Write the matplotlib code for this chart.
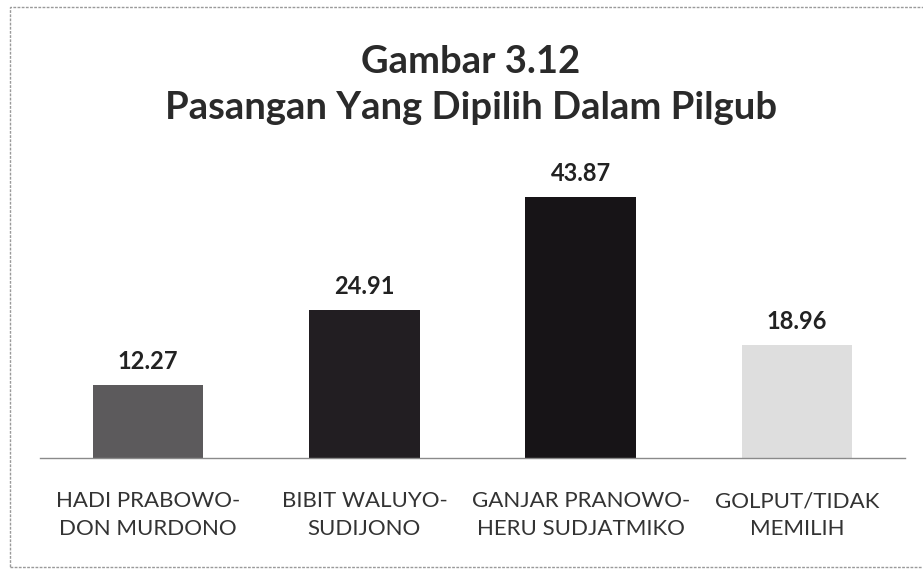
import matplotlib
matplotlib.use("Agg")
import matplotlib.pyplot as plt
from matplotlib.patches import Rectangle

categories = ["HADI PRABOWO-\nDON MURDONO", "BIBIT WALUYO-\nSUDIJONO",
              "GANJAR PRANOWO-\nHERU SUDJATMIKO", "GOLPUT/TIDAK\nMEMILIH"]
values = [12.27, 24.91, 43.87, 18.96]
bar_colors = ["#5c5a5c", "#221e22", "#171417", "#dedede"]

plt.rcParams["font.family"] = ["Lato", "DejaVu Sans"]

fig = plt.figure(figsize=(9.23, 5.71), dpi=100)
ax = fig.add_axes([40 / 923, 1 - 458 / 571, 865 / 923, 297.5 / 571])

x = range(len(categories))
bars = ax.bar(x, values, width=0.51, color=bar_colors, zorder=2)
for b, v in zip(bars, values):
    ax.text(b.get_x() + b.get_width() / 2, v + 2.0, f"{v:.2f}",
            ha="center", va="bottom", fontsize=17, fontweight="bold", color="#222222")

ax.set_xlim(-0.5, 3.5)
ax.set_ylim(0, 50)
ax.set_yticks([])
ax.set_xticks(list(x))
ax.set_xticklabels(categories, fontsize=16, color="#333333", linespacing=1.45)
ax.tick_params(axis="x", length=0, pad=24)
for s in ["top", "right", "left"]:
    ax.spines[s].set_visible(False)
ax.spines["bottom"].set_color("#8a8a8a")
ax.spines["bottom"].set_linewidth(1.0)
ax.spines["bottom"].set_linestyle((0, (2, 1)))

fig.text(0.51, 1 - 62 / 571, "Gambar 3.12", ha="center", va="center",
         fontsize=27.5, fontweight="bold", color="#2a2a2a")
fig.text(0.51, 1 - 108 / 571, "Pasangan Yang Dipilih Dalam Pilgub", ha="center", va="center",
         fontsize=27.5, fontweight="bold", color="#2a2a2a")

fig.patches.append(Rectangle((10 / 923, 1 - 567 / 571), 920 / 923, 560 / 571,
                             transform=fig.transFigure, fill=False,
                             edgecolor="#9a9a9a", linewidth=1.0, linestyle=(0, (2, 1))))

fig.savefig("out.png", dpi=100)
